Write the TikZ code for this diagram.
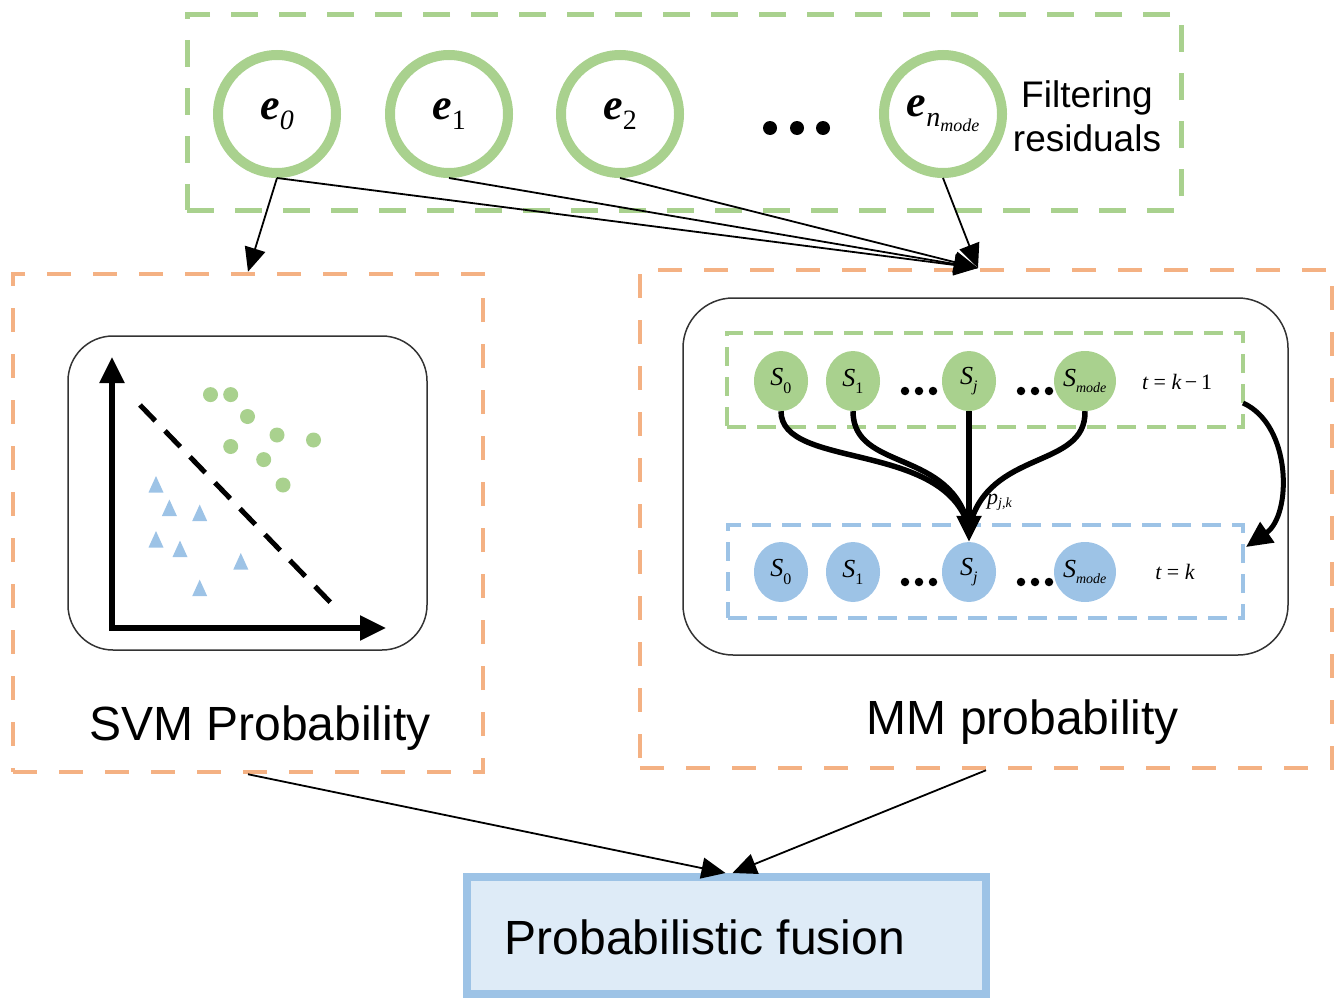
\documentclass[tikz,border=0pt]{standalone}
\usepackage{fontspec}
\setmainfont{Liberation Serif}
\newfontfamily\sansf{Liberation Sans}
\usetikzlibrary{arrows.meta,shapes.geometric,calc}
\definecolor{grn}{HTML}{A9D18E}
\definecolor{org}{HTML}{F4B183}
\definecolor{blu}{HTML}{9DC3E6}
\definecolor{bluefill}{HTML}{DEEBF7}
\newcommand{\fs}[1]{\fontsize{#1}{#1}\selectfont}
\begin{document}
\begin{tikzpicture}[x=1pt,y=-1pt,
  gdash/.style={draw=grn,line width=5pt,dash pattern=on 27pt off 21pt},
  odash/.style={draw=org,line width=4.5pt,dash pattern=on 24pt off 22pt},
  boxnode/.style={rectangle,inner sep=0pt},
  ering/.style={circle,draw=grn,line width=10pt,minimum size=118pt,inner sep=0pt},
  sgreen/.style={ellipse,fill=grn,minimum width=54pt,minimum height=60pt,inner sep=0pt},
  sblue/.style={ellipse,fill=blu,minimum width=54pt,minimum height=60pt,inner sep=0pt},
  rbox/.style={rectangle,draw=black!80,line width=1.5pt,inner sep=0pt},
  thin arrow/.style={draw=black,line width=1.8pt,-{Triangle[length=24pt,width=21pt]}},
  thick arrow/.style={draw=black,line width=5.5pt,-{Triangle[length=26pt,width=24pt]}},
  thick line/.style={draw=black,line width=5.5pt},
  dotmark/.style={circle,fill=black,inner sep=0pt,minimum size=#1},
  big label/.style={font=\sansf\fs{48}},
  inner dash/.style={line width=4.5pt,dash pattern=on 19pt off 11pt},
]
\useasboundingbox (0,0) rectangle (1338,998);

% ---------- filtering residuals ----------
\node[boxnode,gdash,minimum width=994pt,minimum height=195pt] (top) at (684,112.5) {};
\node[ering] (e0) at (277,114) {{\fs{44}\bfseries\itshape e}\raisebox{-10pt}{\fs{28}\itshape 0}};
\node[ering] (e1) at (449,114) {{\fs{44}\bfseries\itshape e}\raisebox{-10pt}{\fs{28}1}};
\node[ering] (e2) at (620,114) {{\fs{44}\bfseries\itshape e}\raisebox{-10pt}{\fs{28}2}};
\node[ering] (en) at (943,114) {{\fs{44}\bfseries\itshape e}\raisebox{-10pt}{\fs{28}\itshape n\raisebox{-5pt}{\fs{18}mode}}};
\node[dotmark=14pt] (d1) at (770,128) {};
\node[dotmark=14pt] (d2) at (797,128) {};
\node[dotmark=14pt] (d3) at (823,128) {};
\node[font=\sansf\fs{37},align=center,inner sep=0pt] (flab) at (1087,116)
  {Filtering\\[7pt]residuals};

% ---------- SVM branch ----------
\node[boxnode,odash,minimum width=470pt,minimum height=498pt] (svm) at (248,523) {};
\node[rbox,rounded corners=45pt,minimum width=359pt,minimum height=314pt] (svmin) at (247.5,493) {};
\coordinate (org0) at (112,628);
\coordinate (ytip) at (112,357);
\coordinate (xtip) at (386,628);
\draw[thick arrow] ($(org0)+(0,2.75)$) -- (ytip);
\draw[thick arrow] ($(org0)+(-2.75,0)$) -- (xtip);
\coordinate (sep1) at (140,405);
\coordinate (sep2) at (331,603);
\draw[line width=5pt,dash pattern=on 22pt off 14pt] (sep1) -- (sep2);
\foreach \x/\y in {210.5/394.6,230.7/394.6,247.5/416.5,277/435,313.5/440,230.7/446.5,263.7/459.6,283/485}
  \fill[grn] (\x,\y) circle (7.5pt);
\foreach \x/\y in {156/485,169.4/508.5,199.7/513.5,156/540,180/549.5,240.8/562,199.7/588.6}
  \fill[blu] (\x-7.5,\y+7.5) -- (\x+7.5,\y+7.5) -- (\x,\y-9) -- cycle;
\node[big label] (svmlab) at (260,728) {SVM Probability};

% ---------- MM branch ----------
\node[boxnode,odash,minimum width=692pt,minimum height=498pt] (mm) at (986,519) {};
\node[rbox,rounded corners=50pt,minimum width=605pt,minimum height=357pt] (mmin) at (985.5,476.5) {};
\node[boxnode,draw=grn,inner dash,minimum width=516pt,minimum height=94pt] (prev) at (985,380) {};
\node[boxnode,draw=blu,inner dash,minimum width=515pt,minimum height=93pt] (curr) at (985.5,571.5) {};

\node[sgreen] (a0) at (781,381) {{\fs{26}\itshape S}\textsubscript{\fs{16}0}};
\node[sgreen] (a1) at (853,381) {{\fs{26}\itshape S}\textsubscript{\fs{16}1}};
\node[sgreen] (aj) at (969,381) {{\fs{26}\itshape S}\textsubscript{\fs{16}\itshape j}};
\node[sgreen] (am) at (1085,381) {{\fs{26}\itshape S}\textsubscript{\fs{14}\itshape mode}};
\node[sblue] (b0) at (781,572) {{\fs{26}\itshape S}\textsubscript{\fs{16}0}};
\node[sblue] (b1) at (853,572) {{\fs{26}\itshape S}\textsubscript{\fs{16}1}};
\node[sblue] (bj) at (969,572) {{\fs{26}\itshape S}\textsubscript{\fs{16}\itshape j}};
\node[sblue] (bm) at (1085,572) {{\fs{26}\itshape S}\textsubscript{\fs{14}\itshape mode}};
\foreach \y/\r in {391/p,582/q}{
  \foreach \x [count=\i] in {905,919,933,1021,1035,1049}
    \node[dotmark=8.5pt] (\r\i) at (\x,\y) {};
}
\node[font=\fs{22}] (tprev) at (1177,382) {{\itshape t} = {\itshape k}\,−\,1};
\node[font=\fs{22}] (tcurr) at (1175,572) {{\itshape t} = {\itshape k}};

\coordinate (merge) at (969,528);
\draw[thick line] (a0.south) .. controls (781,470) and (945,440) .. (merge);
\draw[thick line] (a1.south) .. controls (853,472) and (952,448) .. (merge);
\draw[thick line] (am.south) .. controls (1086,470) and (988,448) .. (merge);
\draw[thick arrow] (aj.south) -- (bj.north);
\node[font=\fs{22},anchor=west,inner sep=0pt] (pjk) at (987,502) {{\itshape p}\textsubscript{\fs{14}\itshape j,k}};

\coordinate (loopout) at (1243,403);
\coordinate (loopin) at (1246,547);
\draw[thick arrow,line width=5pt] (loopout) .. controls (1292,425) and (1292,515) .. (loopin);
\node[big label] (mmlab) at (1023,722) {MM probability};

% ---------- fusion ----------
\node[boxnode,draw=blu,fill=bluefill,line width=8pt,minimum width=519pt,minimum height=117pt] (fuse) at (726.5,935.5) {};
\node[big label] (fuselab) at (705,937) {Probabilistic fusion};

% ---------- connectors ----------
\coordinate (mmin0) at (978,268);
\draw[thin arrow] (e0.south) -- (svm.north);
\draw[thin arrow] (e0.south) -- (mmin0);
\draw[thin arrow] (e1.south) -- (mmin0);
\draw[thin arrow] (e2.south) -- (mmin0);
\draw[thin arrow] (en.south) -- (mmin0);
\draw[thin arrow] (svm.south) -- ($(fuse.north)+(-1,0)$);
\draw[thin arrow] (mm.south) -- ($(fuse.north)+(6,0)$);
\end{tikzpicture}
\end{document}
